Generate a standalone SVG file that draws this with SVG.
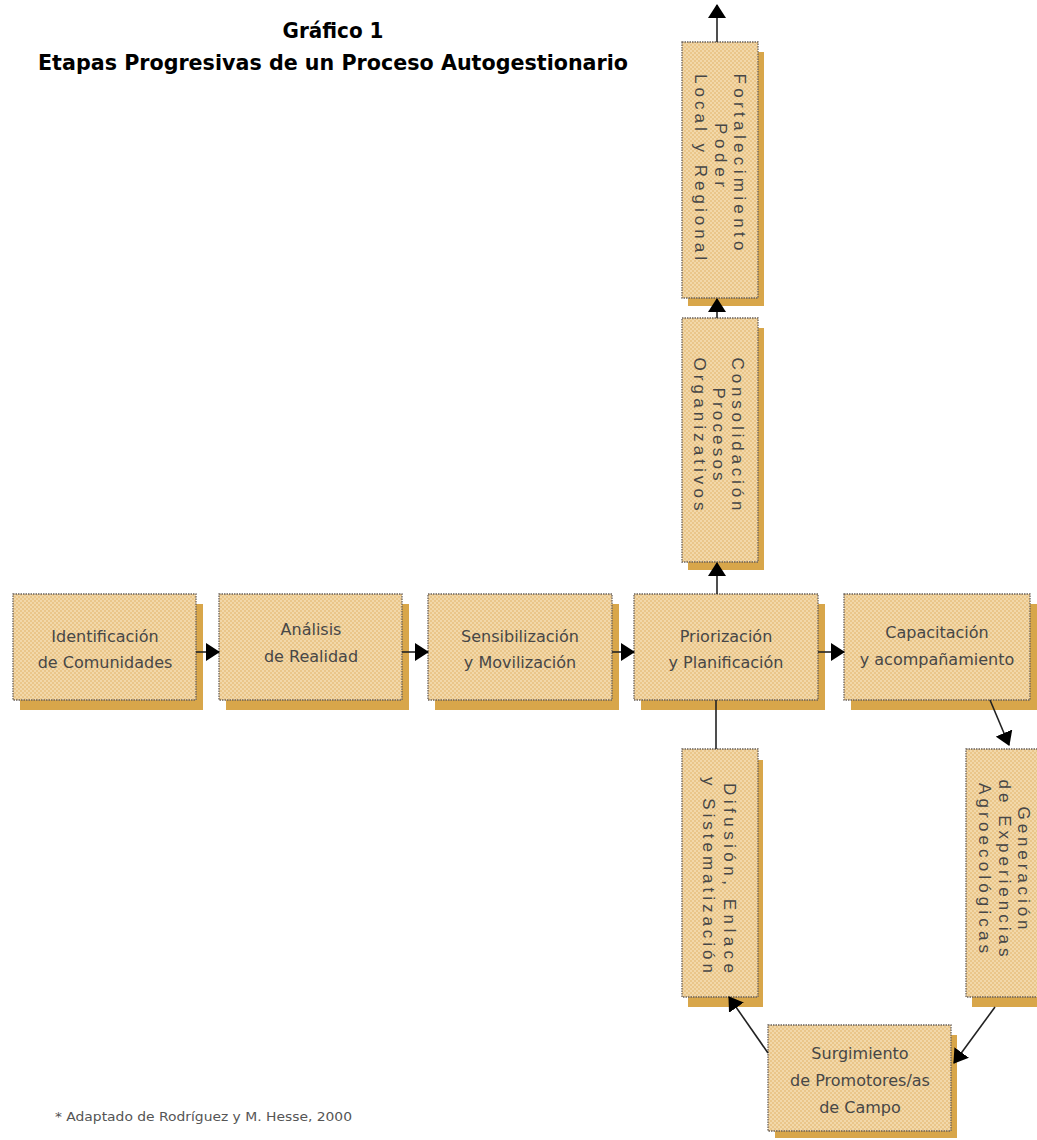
<svg xmlns="http://www.w3.org/2000/svg" width="1037" height="1140" viewBox="0 0 1037 1140">
<defs>
<pattern id="dots" width="4" height="4" patternUnits="userSpaceOnUse">
<rect width="4" height="4" fill="#EAC68A"/>
<circle cx="1" cy="1" r="0.9" fill="#F6E1B8"/>
<circle cx="3" cy="3" r="0.9" fill="#F6E1B8"/>
</pattern>
<marker id="ah" markerUnits="userSpaceOnUse" markerWidth="14" markerHeight="18" refX="13" refY="9" orient="auto">
<path d="M0,0 L14,9 L0,18 z" fill="#000"/>
</marker>
<style>
.sh{fill:#D8A64A}
.bx{fill:url(#dots);stroke:#6b625a;stroke-width:1.3;stroke-dasharray:1.5 1}
.t{font-family:"DejaVu Sans",sans-serif;font-size:16px;fill:#474747;text-anchor:middle}
.v{font-family:"Liberation Sans",Arial,sans-serif;font-size:17px;fill:#474747;text-anchor:middle}
.ln{stroke:#222;stroke-width:1.6;fill:none}
.title{font-family:"DejaVu Sans",sans-serif;font-weight:bold;font-size:22px;fill:#000;text-anchor:middle}
.note{font-family:"DejaVu Sans",sans-serif;font-size:12px;fill:#555}
</style>
</defs>
<rect width="1037" height="1140" fill="#fff"/>
<g id="title">
<text class="title" x="333" y="38" textLength="101" lengthAdjust="spacingAndGlyphs">Gráfico 1</text>
<text class="title" x="333" y="70" textLength="590" lengthAdjust="spacingAndGlyphs">Etapas Progresivas de un Proceso Autogestionario</text>
</g>
<g id="n1">
<rect class="sh" x="20" y="604" width="183" height="106"/>
<rect class="bx" x="13" y="594" width="183" height="106"/>
<text class="t" x="105" y="642">Identificación</text>
<text class="t" x="105" y="668">de Comunidades</text>
</g>
<g id="n2">
<rect class="sh" x="226" y="604" width="183" height="106"/>
<rect class="bx" x="219" y="594" width="183" height="106"/>
<text class="t" x="311" y="635">Análisis</text>
<text class="t" x="311" y="662">de Realidad</text>
</g>
<g id="n3">
<rect class="sh" x="435" y="604" width="184" height="106"/>
<rect class="bx" x="428" y="594" width="184" height="106"/>
<text class="t" x="520" y="642">Sensibilización</text>
<text class="t" x="520" y="668">y Movilización</text>
</g>
<g id="n4">
<rect class="sh" x="641" y="604" width="184" height="106"/>
<rect class="bx" x="634" y="594" width="184" height="106"/>
<text class="t" x="726" y="642">Priorización</text>
<text class="t" x="726" y="668">y Planificación</text>
</g>
<g id="n5">
<rect class="sh" x="851" y="604" width="186" height="106"/>
<rect class="bx" x="844" y="594" width="186" height="106"/>
<text class="t" x="937" y="638">Capacitación</text>
<text class="t" x="937" y="665">y acompañamiento</text>
</g>
<g id="n6">
<rect class="sh" x="688" y="52" width="76" height="254"/>
<rect class="bx" x="682" y="42" width="76" height="256"/>
<text class="v" transform="translate(740,162) rotate(90)" x="0" y="6" textLength="177" lengthAdjust="spacing">Fortalecimiento</text>
<text class="v" transform="translate(721,155) rotate(90)" x="0" y="6" textLength="64" lengthAdjust="spacing">Poder</text>
<text class="v" transform="translate(701,167) rotate(90)" x="0" y="6" textLength="186" lengthAdjust="spacing">Local y Regional</text>
</g>
<g id="n7">
<rect class="sh" x="688" y="328" width="76" height="242"/>
<rect class="bx" x="682" y="318" width="76" height="244"/>
<text class="v" transform="translate(738,434) rotate(90)" x="0" y="6" textLength="153" lengthAdjust="spacing">Consolidación</text>
<text class="v" transform="translate(719,434) rotate(90)" x="0" y="6" textLength="93" lengthAdjust="spacing">Procesos</text>
<text class="v" transform="translate(700,434) rotate(90)" x="0" y="6" textLength="153" lengthAdjust="spacing">Organizativos</text>
</g>
<g id="n8">
<rect class="sh" x="688" y="760" width="75" height="247"/>
<rect class="bx" x="682" y="749" width="76" height="248"/>
<text class="v" transform="translate(730,878) rotate(90)" x="0" y="6" textLength="190" lengthAdjust="spacing">Difusión, Enlace</text>
<text class="v" transform="translate(709,875) rotate(90)" x="0" y="6" textLength="196" lengthAdjust="spacing">y Sistematización</text>
</g>
<g id="n9">
<rect class="sh" x="972" y="759" width="70" height="248"/>
<rect class="bx" x="966" y="749" width="76" height="248"/>
<text class="v" transform="translate(1024,868) rotate(90)" x="0" y="6" textLength="123" lengthAdjust="spacing">Generación</text>
<text class="v" transform="translate(1005,868) rotate(90)" x="0" y="6" textLength="177" lengthAdjust="spacing">de Experiencias</text>
<text class="v" transform="translate(985,868) rotate(90)" x="0" y="6" textLength="170" lengthAdjust="spacing">Agroecológicas</text>
</g>
<g id="n10">
<rect class="sh" x="775" y="1035" width="182" height="103"/>
<rect class="bx" x="768" y="1025" width="183" height="106"/>
<text class="t" x="860" y="1059">Surgimiento</text>
<text class="t" x="860" y="1086">de Promotores/as</text>
<text class="t" x="860" y="1113">de Campo</text>
</g>
<g id="connectors">
<line class="ln" x1="196" y1="652" x2="219" y2="652" marker-end="url(#ah)"/>
<line class="ln" x1="402" y1="652" x2="428" y2="652" marker-end="url(#ah)"/>
<line class="ln" x1="612" y1="652" x2="634" y2="652" marker-end="url(#ah)"/>
<line class="ln" x1="818" y1="652" x2="844" y2="652" marker-end="url(#ah)"/>
<line class="ln" x1="717" y1="594" x2="717" y2="563" marker-end="url(#ah)"/>
<line class="ln" x1="717" y1="318" x2="717" y2="299" marker-end="url(#ah)"/>
<line class="ln" x1="717" y1="42" x2="717" y2="5" marker-end="url(#ah)"/>
<line class="ln" x1="990" y1="700" x2="1009" y2="745" marker-end="url(#ah)"/>
<line class="ln" x1="995" y1="1007" x2="954" y2="1063" marker-end="url(#ah)"/>
<line class="ln" x1="768" y1="1053" x2="729" y2="997" marker-end="url(#ah)"/>
<line class="ln" x1="716" y1="749" x2="716" y2="700"/>
</g>
<g id="footnote">
<text class="note" x="55" y="1121" textLength="297" lengthAdjust="spacingAndGlyphs">* Adaptado de Rodríguez y M. Hesse, 2000</text>
</g>
</svg>
